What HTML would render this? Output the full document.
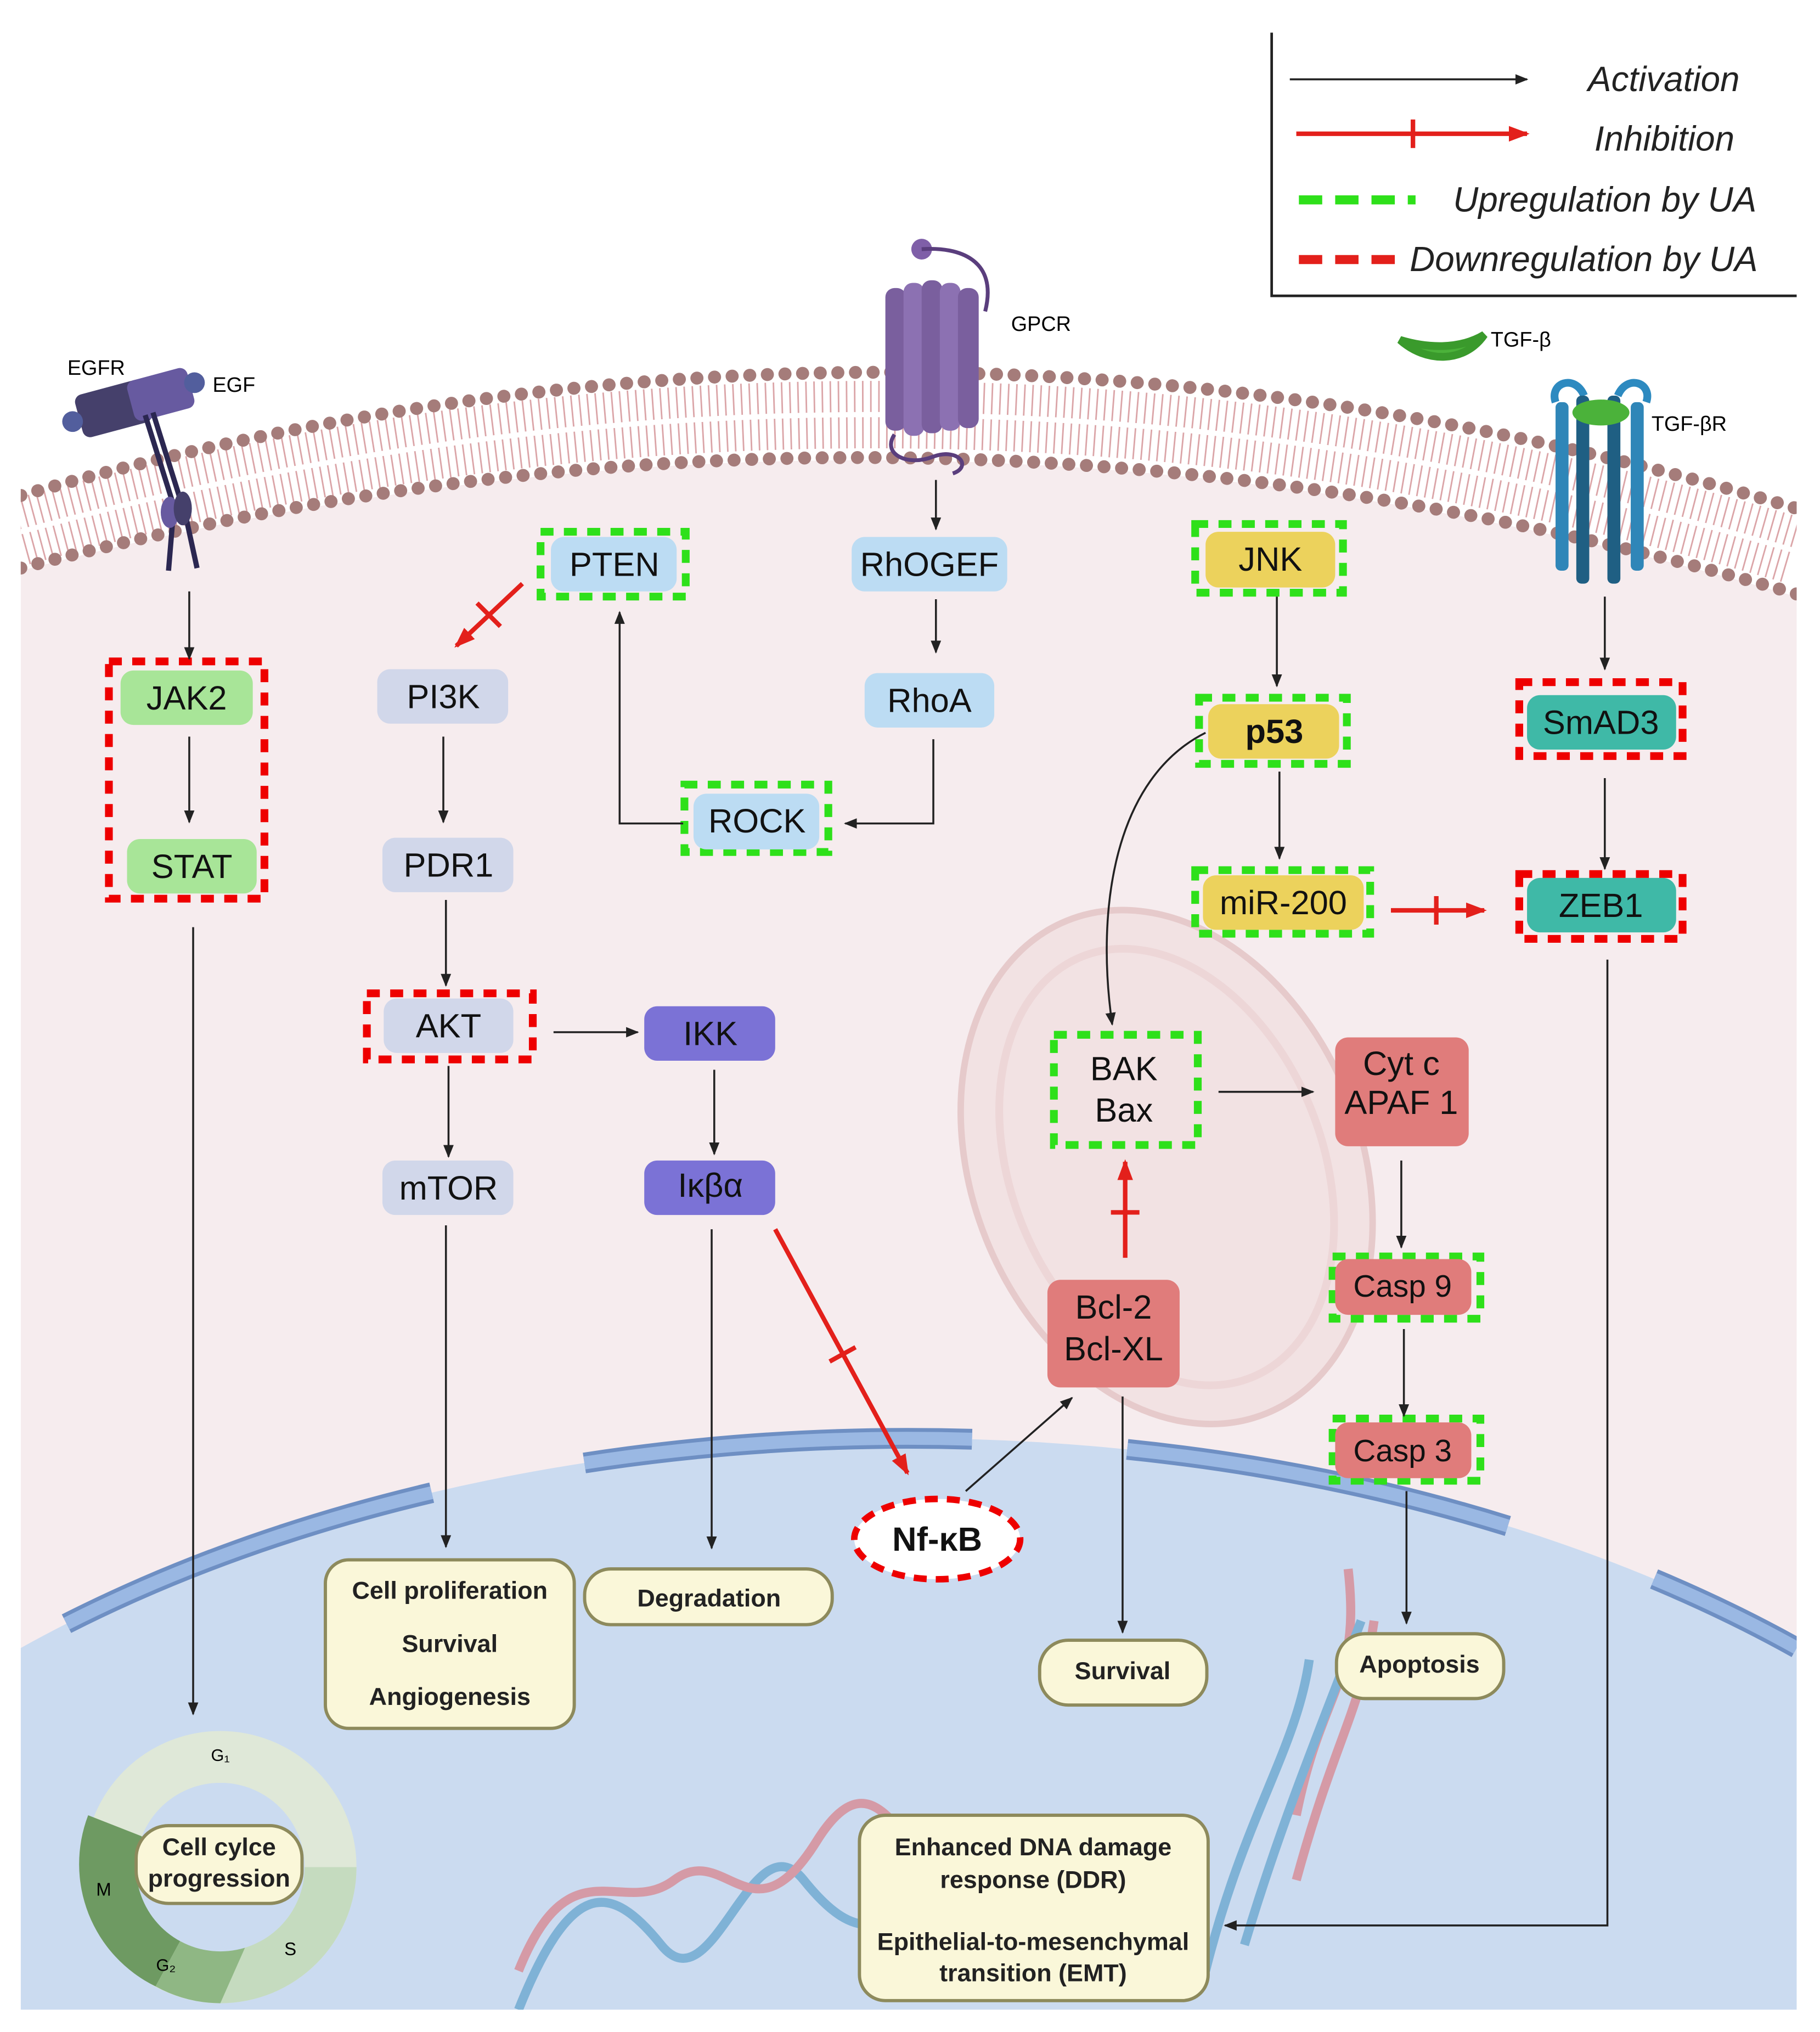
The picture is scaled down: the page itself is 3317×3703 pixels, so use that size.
<!DOCTYPE html>
<html><head><meta charset="utf-8"><style>
html,body{margin:0;padding:0;background:#fff;width:3317px;height:3703px;overflow:hidden;}
svg{display:block;}
text{font-family:"Liberation Sans",sans-serif;}
</style></head><body>
<svg width="3317" height="3703" viewBox="0 0 1404 1567" xmlns="http://www.w3.org/2000/svg">
<defs>
<marker id="ab" markerWidth="10" markerHeight="10" refX="9" refY="5" orient="auto" markerUnits="userSpaceOnUse"><path d="M0,1 L10,5 L0,9 Z" fill="#222"/></marker>
<marker id="ar" markerWidth="16" markerHeight="16" refX="14" refY="8" orient="auto" markerUnits="userSpaceOnUse"><path d="M0,2 L16,8 L0,14 Z" fill="#e3201b"/></marker>
<clipPath id="cell"><rect x="16" y="0" width="1370" height="1550"/></clipPath>
</defs>

<g clip-path="url(#cell)">
<path d="M16,440 Q700,260 1386,460 L1386,1550 L16,1550 Z" fill="#f6ecee"/>
<path d="M16,380 Q700,185 1386,390 L1386,460 Q700,260 16,440 Z" fill="#fff"/>
<path d="M16,410 Q700,222 1386,425" fill="none" stroke="#dba5a8" stroke-width="52" stroke-dasharray="1.2 5"/>
<path d="M16,410 Q700,222 1386,425" fill="none" stroke="#fff" stroke-width="4"/>
<path d="M16,382 Q700,187 1386,392" fill="none" stroke="#a57c7a" stroke-width="10" stroke-linecap="round" stroke-dasharray="0.1 13.5"/>
<path d="M16,438 Q700,258 1386,458" fill="none" stroke="#a57c7a" stroke-width="10" stroke-linecap="round" stroke-dasharray="0.1 13.5"/>
<path d="M16,1271 A1010,610 0 0 1 1386,1271 L1386,1550 L16,1550 Z" fill="#cbdbf0"/>
<path d="M16,1271 A1010,610 0 0 1 1386,1271" fill="none" stroke="#6e8fc3" stroke-width="16" stroke-dasharray="300 120" stroke-dashoffset="-40"/>
<path d="M16,1271 A1010,610 0 0 1 1386,1271" fill="none" stroke="#9ab8e3" stroke-width="10" stroke-dasharray="300 120" stroke-dashoffset="-40"/>
<path d="M400,1550 C440,1450 470,1450 510,1500 S580,1400 620,1450 S690,1500 740,1420" fill="none" stroke="#7fb2d6" stroke-width="7"/>
<path d="M400,1520 C440,1420 480,1480 520,1450 S580,1500 630,1420 S700,1450 740,1450" fill="none" stroke="#d59aa6" stroke-width="7"/>
<path d="M1000,1400 C1020,1300 1050,1300 1040,1210 M1000,1450 C1030,1340 1050,1320 1060,1250" fill="none" stroke="#d59aa6" stroke-width="7"/>
<path d="M930,1520 C960,1400 1000,1350 1010,1280 M960,1500 C990,1400 1020,1330 1050,1250" fill="none" stroke="#7fb2d6" stroke-width="7"/>
</g>

<g transform="rotate(-22 900 900)">
<ellipse cx="900" cy="900" rx="150" ry="205" fill="#f2e2e3" stroke="#e6cacb" stroke-width="5"/>
<ellipse cx="900" cy="900" rx="120" ry="175" fill="none" stroke="#edd6d7" stroke-width="6"/>
</g>

<circle cx="170" cy="1440" r="85" fill="none" stroke="#dfe8d8" stroke-width="40"/>
<path d="M170,1440 L68,1400 A105,105 0 0 0 120,1532 Z" fill="#6e9a62"/>
<path d="M170,1440 L120,1532 A105,105 0 0 0 170,1545 L190,1500 Z" fill="#8fb784"/>
<path d="M170,1440 L190,1500 L170,1545 A105,105 0 0 0 275,1440 Z" fill="#c5dbbf"/>
<circle cx="170" cy="1440" r="65" fill="#cbdbf0"/>
<text x="170" y="1358" font-size="13" text-anchor="middle">G₁</text>
<text x="80" y="1462" font-size="14" text-anchor="middle">M</text>
<text x="128" y="1520" font-size="13" text-anchor="middle">G₂</text>
<text x="224" y="1508" font-size="14" text-anchor="middle">S</text>

<g>
<rect x="60" y="298" width="55" height="34" rx="6" fill="#45406b" transform="rotate(-15 87 315)"/>
<rect x="100" y="288" width="48" height="32" rx="6" fill="#675aa0" transform="rotate(-15 124 304)"/>
<circle cx="56" cy="325" r="8" fill="#525e9d"/><circle cx="150" cy="295" r="8" fill="#525e9d"/>
<path d="M112,320 L134,390 M118,318 L140,388 M134,392 L130,440 M142,392 L152,438" stroke="#2b2751" stroke-width="4"/>
<ellipse cx="131" cy="395" rx="7" ry="12" fill="#675aa0"/><ellipse cx="141" cy="392" rx="7" ry="13" fill="#45406b"/>
<text x="52" y="289" font-size="16">EGFR</text><text x="164" y="302" font-size="16">EGF</text>
</g>
<g>
<circle cx="711" cy="192" r="8" fill="#7f5fa8"/>
<path d="M711,192 C740,190 770,200 760,240" fill="none" stroke="#5a3e7d" stroke-width="3"/>
<rect x="683" y="222" width="16" height="110" rx="7" fill="#7a5f9e"/>
<rect x="697" y="218" width="16" height="118" rx="7" fill="#8c71b2"/>
<rect x="711" y="216" width="16" height="118" rx="7" fill="#7a5f9e"/>
<rect x="725" y="218" width="16" height="114" rx="7" fill="#8c71b2"/>
<rect x="739" y="222" width="16" height="108" rx="7" fill="#7a5f9e"/>
<path d="M690,335 C680,350 700,360 720,352 C740,345 750,360 735,365" fill="none" stroke="#5a3e7d" stroke-width="3"/>
<text x="780" y="255" font-size="16">GPCR</text>
</g>
<g>
<path d="M1080,262 C1100,280 1130,280 1145,258 C1125,270 1100,268 1080,262 Z" fill="#4bb23a" stroke="#3a9a2c" stroke-width="6"/>
<text x="1150" y="267" font-size="16">TGF-β</text>
<path d="M1200,310 C1195,295 1215,288 1222,305 M1270,310 C1275,295 1255,288 1248,305" fill="none" stroke="#2d8ac0" stroke-width="6"/>
<rect x="1200" y="310" width="10" height="130" rx="4" fill="#2f86b8"/>
<rect x="1216" y="305" width="10" height="145" rx="4" fill="#1f5f83"/>
<rect x="1240" y="305" width="10" height="145" rx="4" fill="#1f5f83"/>
<rect x="1258" y="310" width="10" height="130" rx="4" fill="#2f86b8"/>
<ellipse cx="1235" cy="318" rx="22" ry="10" fill="#4bb23a"/>
<text x="1274" y="332" font-size="16">TGF-βR</text>
</g>

<path d="M981,25 V228 H1386" fill="none" stroke="#222" stroke-width="2"/>
<line x1="995" y1="61" x2="1178" y2="61" stroke="#222" stroke-width="1.5" marker-end="url(#ab)"/>
<line x1="1000" y1="103" x2="1178" y2="103" stroke="#e3201b" stroke-width="3.5" marker-end="url(#ar)"/>
<line x1="1090" y1="92" x2="1090" y2="114" stroke="#e3201b" stroke-width="3.5"/>
<line x1="1002" y1="154" x2="1092" y2="154" stroke="#2ee01a" stroke-width="7" stroke-dasharray="18 10"/>
<line x1="1002" y1="200" x2="1078" y2="200" stroke="#e3201b" stroke-width="7" stroke-dasharray="18 10"/>
<g font-size="27" font-style="italic" fill="#222" text-anchor="end">
<text x="1342" y="70">Activation</text><text x="1338" y="116">Inhibition</text>
<text x="1355" y="163">Upregulation by UA</text><text x="1356" y="209">Downregulation by UA</text>
</g>

<g fill="none" stroke-width="6" stroke-dasharray="10 8">
<rect x="84" y="510" width="120" height="183" stroke="#e00"/>
<rect x="283" y="766" width="128" height="51" stroke="#e00"/>
<rect x="1172" y="526" width="126" height="57" stroke="#e00"/>
<rect x="1172" y="674" width="126" height="50" stroke="#e00"/>
<rect x="417" y="410" width="112" height="50" stroke="#2ee01a"/>
<rect x="528" y="605" width="111" height="52" stroke="#2ee01a"/>
<rect x="922" y="404" width="114" height="53" stroke="#2ee01a"/>
<rect x="925" y="538" width="114" height="51" stroke="#2ee01a"/>
<rect x="922" y="671" width="135" height="49" stroke="#2ee01a"/>
<rect x="813" y="798" width="111" height="85" stroke="#2ee01a"/>
<rect x="1028" y="969" width="114" height="48" stroke="#2ee01a"/>
<rect x="1028" y="1094" width="114" height="48" stroke="#2ee01a"/>
</g>

<g font-size="26" text-anchor="middle" fill="#111">
<rect x="93" y="517" width="102" height="42" rx="10" fill="#a8e598"/><text x="144" y="547">JAK2</text>
<rect x="98" y="647" width="100" height="42" rx="10" fill="#a8e598"/><text x="148" y="677">STAT</text>
<rect x="291" y="516" width="101" height="42" rx="10" fill="#d1d7ea"/><text x="342" y="546">PI3K</text>
<rect x="295" y="646" width="101" height="42" rx="10" fill="#d1d7ea"/><text x="346" y="676">PDR1</text>
<rect x="296" y="770" width="100" height="42" rx="10" fill="#d1d7ea"/><text x="346" y="800">AKT</text>
<rect x="295" y="895" width="101" height="42" rx="10" fill="#d1d7ea"/><text x="346" y="925">mTOR</text>
<rect x="425" y="414" width="97" height="42" rx="10" fill="#bcdcf3"/><text x="474" y="444">PTEN</text>
<rect x="657" y="414" width="120" height="42" rx="10" fill="#bcdcf3"/><text x="717" y="444">RhOGEF</text>
<rect x="667" y="519" width="100" height="42" rx="10" fill="#bcdcf3"/><text x="717" y="549">RhoA</text>
<rect x="535" y="612" width="97" height="43" rx="10" fill="#bcdcf3"/><text x="584" y="642">ROCK</text>
<rect x="497" y="776" width="101" height="42" rx="10" fill="#7b72d6"/><text x="548" y="806">IKK</text>
<rect x="497" y="895" width="101" height="42" rx="10" fill="#7b72d6"/><text x="548" y="923">Iκβα</text>
<rect x="930" y="410" width="100" height="43" rx="10" fill="#ecd25c"/><text x="980" y="440">JNK</text>
<rect x="932" y="543" width="101" height="42" rx="10" fill="#ecd25c"/><text x="983" y="573" font-weight="bold">p53</text>
<rect x="928" y="675" width="124" height="42" rx="10" fill="#ecd25c"/><text x="990" y="705">miR-200</text>
<rect x="1178" y="536" width="115" height="42" rx="10" fill="#3fb9a7"/><text x="1235" y="566">SmAD3</text>
<rect x="1178" y="677" width="115" height="42" rx="10" fill="#3fb9a7"/><text x="1235" y="707">ZEB1</text>
<text x="867" y="833">BAK</text><text x="867" y="865">Bax</text>
<rect x="1030" y="800" width="103" height="84" rx="10" fill="#e07c7b"/><text x="1081" y="829">Cyt c</text><text x="1081" y="859">APAF 1</text>
<rect x="1030" y="971" width="105" height="43" rx="10" fill="#e07c7b"/><text x="1082" y="1000" font-size="24">Casp 9</text>
<rect x="1030" y="1097" width="105" height="43" rx="10" fill="#e07c7b"/><text x="1082" y="1127" font-size="24">Casp 3</text>
<rect x="808" y="987" width="102" height="83" rx="10" fill="#e07c7b"/><text x="859" y="1017">Bcl-2</text><text x="859" y="1049">Bcl-XL</text>
<ellipse cx="723" cy="1187" rx="64" ry="31" fill="#fff" stroke="#e00" stroke-width="5" stroke-dasharray="10 7"/><text x="723" y="1196" font-weight="bold">Nf-κB</text>
</g>

<g fill="#faf7d9" stroke="#8d8a5c" stroke-width="2.5">
<rect x="251" y="1203" width="192" height="130" rx="18"/>
<rect x="451" y="1210" width="191" height="43" rx="20"/>
<rect x="802" y="1265" width="129" height="50" rx="22"/>
<rect x="1031" y="1260" width="129" height="50" rx="22"/>
<rect x="663" y="1400" width="269" height="143" rx="20"/>
<rect x="105" y="1408" width="128" height="60" rx="25"/>
</g>
<g font-size="19" font-weight="bold" text-anchor="middle" fill="#222">
<text x="347" y="1233">Cell proliferation</text><text x="347" y="1274">Survival</text><text x="347" y="1315">Angiogenesis</text>
<text x="547" y="1239">Degradation</text>
<text x="866" y="1295">Survival</text>
<text x="1095" y="1290">Apoptosis</text>
<text x="797" y="1431">Enhanced DNA damage</text><text x="797" y="1456">response (DDR)</text>
<text x="797" y="1504">Epithelial-to-mesenchymal</text><text x="797" y="1528">transition (EMT)</text>
<text x="169" y="1431">Cell cylce</text><text x="169" y="1455">progression</text>
</g>

<g stroke="#222" stroke-width="1.5" fill="none" marker-end="url(#ab)">
<line x1="146" y1="456" x2="146" y2="508"/>
<line x1="146" y1="568" x2="146" y2="634"/>
<line x1="149" y1="715" x2="149" y2="1322"/>
<line x1="342" y1="568" x2="342" y2="634"/>
<line x1="344" y1="694" x2="344" y2="760"/>
<line x1="346" y1="822" x2="346" y2="892"/>
<line x1="344" y1="945" x2="344" y2="1193"/>
<line x1="427" y1="796" x2="492" y2="796"/>
<line x1="551" y1="825" x2="551" y2="890"/>
<line x1="549" y1="948" x2="549" y2="1194"/>
<polyline points="527,635 478,635 478,472"/>
<polyline points="720,570 720,635 652,635"/>
<line x1="722" y1="370" x2="722" y2="408"/>
<line x1="722" y1="462" x2="722" y2="503"/>
<line x1="985" y1="460" x2="985" y2="529"/>
<line x1="987" y1="595" x2="987" y2="662"/>
<line x1="1238" y1="460" x2="1238" y2="516"/>
<line x1="1238" y1="600" x2="1238" y2="670"/>
<polyline points="1240,740 1240,1485 945,1485"/>
<path d="M930,565 C860,600 845,700 858,790"/>
<line x1="940" y1="842" x2="1013" y2="842"/>
<line x1="1081" y1="895" x2="1081" y2="962"/>
<line x1="1083" y1="1025" x2="1083" y2="1092"/>
<line x1="1085" y1="1150" x2="1085" y2="1252"/>
<line x1="866" y1="1077" x2="866" y2="1259"/>
<line x1="745" y1="1150" x2="827" y2="1078"/>
</g>

<g stroke="#e3201b" stroke-width="3.5" fill="none">
<line x1="403" y1="450" x2="352" y2="498" marker-end="url(#ar)"/>
<line x1="368" y1="465" x2="386" y2="483"/>
<line x1="1073" y1="702" x2="1145" y2="702" marker-end="url(#ar)"/>
<line x1="1108" y1="691" x2="1108" y2="713"/>
<line x1="868" y1="970" x2="868" y2="896" marker-end="url(#ar)"/>
<line x1="857" y1="935" x2="879" y2="935"/>
<line x1="598" y1="948" x2="700" y2="1136" marker-end="url(#ar)"/>
<line x1="640" y1="1050" x2="660" y2="1039"/>
</g>
</svg>
</body></html>
